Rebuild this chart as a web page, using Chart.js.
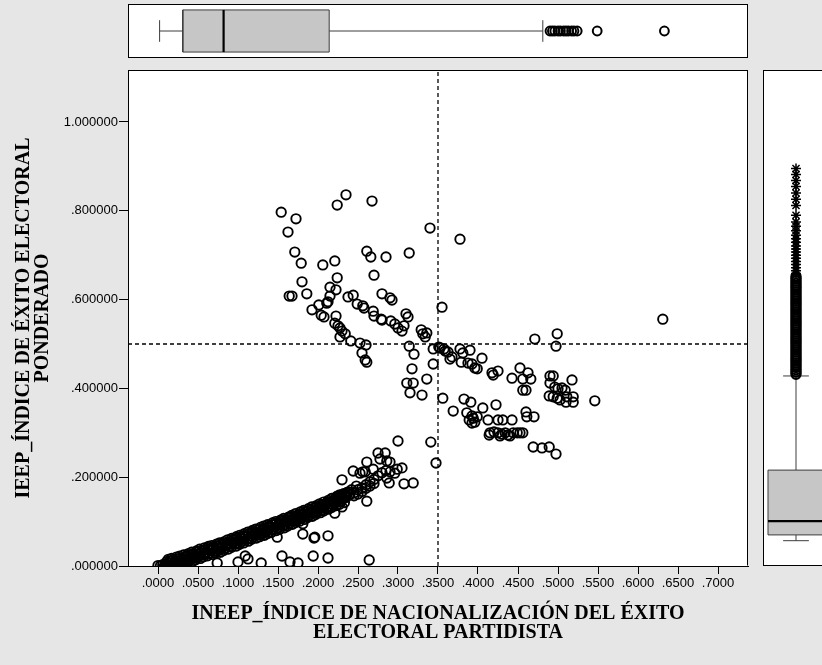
<!DOCTYPE html>
<html>
<head>
<meta charset="utf-8">
<script src="https://cdn.jsdelivr.net/npm/chart.js@4.4.1/dist/chart.umd.min.js"></script>
<style>
  html, body { margin: 0; padding: 0; background: #e6e6e6; }
  body { width: 822px; height: 665px; position: relative; overflow: hidden; }
  canvas { position: absolute; }
</style>
</head>
<body>
<canvas id="main" width="822" height="665" style="left:0;top:0"></canvas>
<canvas id="topBox" width="620" height="54" style="left:128px;top:4px"></canvas>
<canvas id="sideBox" width="59" height="496" style="left:763px;top:70px"></canvas>
<script>
// reference lines
const refX = 0.35;
const refY = 0.5;

// upper cluster of parties
const clusterX = [
  .154, .1725, .1625, .224, .235, .2675, .171, .179, .206, .221,
  .261, .266, .285, .314, .34, .3775, .224, .27, .18, .186,
  .164, .1675, .215, .2225, .215, .2125, .211, .201, .1925, .204,
  .2075, .2225, .221, .225, .2275, .23, .234, .2275, .241, .2375,
  .244, .249, .256, .2575, .269, .27, .279, .28, .28, .29,
  .2925, .291, .296, .30, .305, .3075, .31, .3125, .329, .331,
  .334, .336, .355, .2525, .26, .255, .259, .261, .314, .32,
  .344, .3525, .359, .344, .3175, .311, .319, .315, .33, .336,
  .356, .369, .30, .341, .3475, .351, .3575, .3625, .3675, .365,
  .3775, .381, .39, .379, .3875, .3925, .396, .399, .405, .4175,
  .419, .425, .4425, .4525, .4625, .456, .466, .456, .46, .471,
  .499, .4975, .49, .494, .49, .496, .50, .505, .509, .5175,
  .489, .494, .499, .5025, .511, .51, .519, .519, .546, .631,
  .3825, .391, .386, .3925, .394, .389, .396, .399, .3925, .406,
  .4225, .4125, .425, .431, .4425, .46, .461, .47, .415, .42,
  .425, .43, .434, .4375, .444, .449, .4525, .456, .414, .4275,
  .44, .469, .48, .489, .4975
];
const clusterY = [
  .797, .782, .752, .813, .836, .822, .707, .682, .678, .687,
  .709, .696, .696, .705, .761, .736, .649, .655, .640, .613,
  .608, .608, .628, .622, .608, .595, .592, .588, .577, .565,
  .561, .563, .547, .541, .536, .529, .523, .516, .507, .606,
  .610, .590, .586, .581, .574, .563, .556, .554, .613, .604,
  .599, .552, .545, .536, .529, .541, .568, .561, .532, .523,
  .516, .525, .583, .502, .498, .480, .464, .459, .495, .477,
  .489, .491, .484, .455, .444, .412, .412, .390, .385, .421,
  .378, .349, .2815, .279, .232, .493, .489, .482, .471, .466,
  .489, .480, .486, .459, .457, .455, .446, .444, .468, .435,
  .430, .439, .423, .446, .435, .421, .421, .396, .396, .511,
  .523, .495, .428, .428, .412, .403, .399, .401, .396, .419,
  .383, .381, .378, .374, .381, .369, .381, .369, .372, .556,
  .376, .369, .345, .338, .333, .329, .324, .336, .322, .356,
  .363, .329, .329, .329, .329, .347, .336, .336, .300, .302,
  .300, .297, .300, .295, .300, .300, .300, .300, .295, .293,
  .293, .268, .266, .268, .252
];

// dense lower band, read as five rows plus its tail
const bandMidX = [
  .000, .006, .010, .014, .021, .025, .031, .034, .040, .046,
  .050, .054, .061, .065, .069, .076, .080, .086, .090, .094,
  .101, .105, .109, .116, .120, .124, .131, .135, .139, .146,
  .150, .154, .161, .165, .169, .176, .180, .186, .190, .194,
  .201, .205, .209, .216, .220, .224, .231, .235, .240
];
const bandMidY = [
  .001, .003, .004, .006, .009, .011, .012, .016, .020, .021,
  .026, .030, .031, .035, .038, .040, .042, .048, .050, .053,
  .058, .060, .065, .067, .072, .074, .079, .080, .086, .087,
  .092, .094, .099, .101, .107, .109, .114, .116, .122, .123,
  .129, .131, .137, .139, .145, .147, .152, .154, .161
];
const bandLowX = [
  .008, .012, .018, .022, .028, .033, .037, .043, .047, .053,
  .057, .062, .068, .072, .078, .082, .088, .092, .098, .102,
  .107, .113, .117, .123, .127, .133, .137, .142, .148, .152,
  .158, .162, .168, .172, .177, .183, .187, .193, .197, .203,
  .207, .213, .217, .223, .227, .233
];
const bandLowY = [
  0, 0, 0, .001, .002, .004, .007, .010, .014, .017,
  .021, .023, .026, .029, .031, .035, .038, .042, .045, .049,
  .052, .056, .060, .063, .066, .069, .073, .076, .080, .083,
  .086, .090, .094, .098, .101, .105, .109, .112, .116, .120,
  .124, .128, .132, .136, .139, .143
];
const bandLow2X = [
  .003, .009, .016, .019, .026, .029, .036, .039, .044, .049,
  .056, .059, .064, .071, .074, .079, .084, .089, .096, .099,
  .104, .111, .114, .119, .126, .129, .134, .141, .144, .149,
  .156, .159, .164, .171, .174, .179, .184, .189, .196, .199,
  .204, .211, .214, .219, .226, .229
];
const bandLow2Y = [
  0, 0, .002, .003, .006, .008, .012, .014, .017, .020,
  .025, .027, .029, .033, .034, .038, .041, .045, .050, .052,
  .055, .060, .062, .066, .071, .073, .076, .081, .083, .086,
  .091, .093, .096, .102, .104, .108, .111, .115, .120, .122,
  .126, .132, .134, .138, .144, .146
];
const bandHigh2X = [
  .011, .015, .019, .024, .028, .033, .036, .041, .045, .051,
  .055, .059, .064, .068, .074, .078, .081, .086, .091, .095,
  .099, .104, .108, .113, .117, .121, .126, .131, .134, .139,
  .144, .148, .152, .157, .161, .166, .171, .174, .179, .184,
  .187, .192, .197, .201, .206, .211, .215, .219, .224, .229,
  .234
];
const bandHigh2Y = [
  .010, .011, .013, .016, .017, .020, .022, .025, .027, .032,
  .034, .037, .039, .041, .045, .047, .049, .052, .056, .059,
  .062, .065, .068, .072, .075, .077, .081, .084, .086, .090,
  .093, .095, .098, .102, .104, .108, .112, .114, .118, .121,
  .123, .127, .131, .134, .138, .142, .145, .148, .152, .156,
  .159
];
const bandHighX = [
  .013, .017, .023, .027, .032, .038, .042, .048, .052, .058,
  .063, .067, .073, .077, .083, .087, .092, .098, .102, .108,
  .112, .118, .122, .128, .132, .137, .143, .147, .153, .157,
  .163, .167, .172, .178, .182, .188, .192, .198, .202, .207,
  .213, .217, .223, .227, .232, .238
];
const bandHighY = [
  .015, .017, .020, .022, .025, .028, .031, .034, .038, .041,
  .044, .046, .049, .052, .055, .059, .062, .066, .069, .073,
  .076, .080, .083, .087, .090, .093, .097, .100, .103, .107,
  .110, .114, .118, .122, .125, .129, .133, .136, .140, .144,
  .148, .152, .156, .160, .163, .167
];
const tailX = [.245, .25, .255, .26, .265, .27, .275, .28, .285, .245,
  .25, .255, .26, .265, .27, .242, .248, .236, .23, .225];
const tailY = [.165, .172, .176, .183, .19, .195, .203, .21, .215, .158,
  .162, .168, .175, .18, .186, .172, .18, .165, .16, .158];

// loose points around the band
const looseX = [
  .2125, .195, .181, .155, .165, .175, .194, .2125, .264, .129,
  .1125, .109, .10, .074, .149, .221, .23, .181, .196, .275,
  .284, .2775, .286, .29, .299, .305, .29, .286, .289, .3075,
  .319, .296, .261, .269, .256, .244, .23, .261, .2525, .259
];
const looseY = [
  .068, .063, .072, .0225, .009, .007, .0225, .018, .0135, .007,
  .016, .0225, .009, .007, .065, .119, .133, .095, .065, .2545,
  .2545, .241, .2365, .234, .218, .221, .212, .198, .187, .185,
  .187, .209, .234, .218, .212, .214, .194, .146, .209, .212
];

// top boxplot (x variable): whisker low, q1, median, q3, whisker high
const xBoxStats = [0.002, 0.031, 0.082, 0.214, 0.481];
const xOutliers = [.49, .493, .496, .50, .503, .507, .51, .513, .517, .52, .524, .549, .633];

// side boxplot (y variable)
const yBoxStats = [0.057, 0.070, 0.101, 0.216, 0.428];
const yOutliers = [
  .432, .437, .442, .447, .452, .457, .462, .467, .472, .477,
  .482, .487, .492, .497, .502, .507, .512, .517, .522, .527,
  .532, .537, .542, .547, .552, .557, .562, .567, .572, .577,
  .582, .587, .592, .597, .602, .607, .612, .617, .622, .627,
  .632, .637, .642, .647, .652
];
const yExtremes = [
  .895, .882, .868, .855, .84, .826, .812, .79, .775, .765,
  .755, .745, .737, .729, .721, .714, .707, .70, .693, .686,
  .679, .672, .665, .659
];

// pixel mapping shared by the three panels (800px per x unit, 444px per y unit)
const X_MIN = -0.0375, X_MAX = 0.7375;
const Y_MIN = 0, Y_MAX = 496 / 444;

Chart.defaults.color = '#000';
Chart.defaults.animation = false;

const pts = (xs, ys) => xs.map((x, i) => ({ x, y: ys[i] }));

// white plot area + frame lines
const panel = {
  id: 'panel',
  beforeDraw(chart) {
    const { ctx, chartArea: a } = chart;
    ctx.save();
    ctx.fillStyle = '#fff';
    ctx.fillRect(a.left, a.top, a.right - a.left, a.bottom - a.top);
    ctx.restore();
  },
  afterDraw(chart, args, opts) {
    const { ctx, chartArea: a } = chart;
    const sides = opts.sides || 'tlbr';
    const l = Math.round(a.left) + 0.5, r = Math.round(a.right) - 0.5;
    const t = Math.round(a.top) + 0.5, b = Math.round(a.bottom) - 0.5;
    ctx.save();
    ctx.strokeStyle = '#000';
    ctx.lineWidth = 1;
    ctx.beginPath();
    if (sides.includes('t')) { ctx.moveTo(l - 0.5, t); ctx.lineTo(r + 0.5, t); }
    if (sides.includes('b')) { ctx.moveTo(l - 0.5, b); ctx.lineTo(r + 0.5, b); }
    if (sides.includes('l')) { ctx.moveTo(l, t); ctx.lineTo(l, b); }
    if (sides.includes('r')) { ctx.moveTo(r, t); ctx.lineTo(r, b); }
    ctx.stroke();
    ctx.restore();
  }
};

function boxDatasets(stats, half, cap, horizontal) {
  const [lo, q1, med, q3, hi] = stats;
  const P = (v, o) => horizontal ? { x: v, y: o } : { x: o, y: v };
  const seg = (data, extra) => Object.assign({
    type: 'line', data, borderColor: '#3c3c3c', borderWidth: 1,
    pointRadius: 0, fill: false, tension: 0
  }, extra);
  return [
    seg([P(med, -half), P(med, half)], { borderColor: '#000', borderWidth: 2.2 }),
    seg([P(q1, -half), P(q3, -half), P(q3, half), P(q1, half), P(q1, -half)],
        { fill: 'shape', backgroundColor: '#c6c6c6' }),
    seg([P(lo, 0), P(q1, 0)]),
    seg([P(q3, 0), P(hi, 0)]),
    seg([P(lo, -cap), P(lo, cap)]),
    seg([P(hi, -cap), P(hi, cap)])
  ];
}

const tickFont = { family: '"Liberation Sans", Arial, sans-serif', size: 13 };
const titleFont = { family: '"Liberation Serif", "Times New Roman", serif', size: 20, weight: 'bold', lineHeight: 0.95 };
const ring = { pointStyle: 'circle', pointRadius: 4.7, pointBorderWidth: 1.9,
  pointBorderColor: '#000', pointBackgroundColor: 'rgba(0,0,0,0)' };

new Chart(document.getElementById('main'), {
  type: 'scatter',
  data: {
    datasets: [
      { type: 'line', data: [{ x: refX, y: Y_MIN }, { x: refX, y: Y_MAX }],
        borderColor: '#000', borderWidth: 1.3, borderDash: [4, 3], pointRadius: 0, fill: false },
      { type: 'line', data: [{ x: X_MIN, y: refY }, { x: X_MAX, y: refY }],
        borderColor: '#000', borderWidth: 1.3, borderDash: [4, 3], pointRadius: 0, fill: false },
      Object.assign({ data: pts(clusterX, clusterY) }, ring),
      Object.assign({ data: pts(looseX, looseY) }, ring),
      Object.assign({ data: pts(tailX, tailY) }, ring),
      Object.assign({ data: pts(bandHighX, bandHighY) }, ring),
      Object.assign({ data: pts(bandHigh2X, bandHigh2Y) }, ring),
      Object.assign({ data: pts(bandMidX, bandMidY) }, ring),
      Object.assign({ data: pts(bandLow2X, bandLow2Y) }, ring),
      Object.assign({ data: pts(bandLowX, bandLowY) }, ring)
    ]
  },
  options: {
    responsive: false,
    layout: { autoPadding: false, padding: { top: 70, right: 74, left: 0, bottom: 0 } },
    plugins: { legend: { display: false }, tooltip: { enabled: false }, panel: { sides: 'tr' } },
    scales: {
      x: {
        type: 'linear', min: X_MIN, max: X_MAX,
        afterFit(s) { s.height = 99; },
        ticks: {
          stepSize: 0.05, includeBounds: false, autoSkip: false, maxRotation: 0,
          padding: 2, font: tickFont, color: '#000',
          callback: v => v.toFixed(4).replace(/^0\./, '.')
        },
        grid: { drawOnChartArea: false, drawTicks: true, tickLength: 8, color: '#000' },
        border: { display: true, color: '#000' },
        title: {
          display: true,
          text: ['INEEP_ÍNDICE DE NACIONALIZACIÓN DEL ÉXITO', 'ELECTORAL PARTIDISTA'],
          font: titleFont, color: '#000', padding: { top: 0, bottom: 23 }
        }
      },
      y: {
        type: 'linear', min: Y_MIN, max: Y_MAX,
        afterFit(s) { s.width = 128; },
        ticks: {
          stepSize: 0.2, includeBounds: false, padding: 1, font: tickFont, color: '#000',
          callback: v => v.toFixed(6).replace(/^0\./, '.')
        },
        grid: { drawOnChartArea: false, drawTicks: true, tickLength: 9, color: '#000' },
        border: { display: true, color: '#000' },
        title: {
          display: true,
          text: ['IEEP_ÍNDICE DE ÉXITO ELECTORAL', 'PONDERADO'],
          font: titleFont, color: '#000', padding: { top: 14, bottom: 0 }
        }
      }
    }
  },
  plugins: [panel]
});

// top marginal boxplot, same x scale as the scatter
new Chart(document.getElementById('topBox'), {
  type: 'scatter',
  data: {
    datasets: [
      { data: xOutliers.map(x => ({ x, y: 0 })), pointStyle: 'circle', pointRadius: 4.4,
        pointBorderWidth: 2, pointBorderColor: '#000', pointBackgroundColor: 'rgba(0,0,0,0)' },
      ...boxDatasets(xBoxStats, 0.39, 0.2, true)
    ]
  },
  options: {
    responsive: false,
    layout: { autoPadding: false, padding: 0 },
    plugins: { legend: { display: false }, tooltip: { enabled: false }, panel: { sides: 'tlbr' } },
    scales: {
      x: { display: false, type: 'linear', min: X_MIN, max: X_MIN + 620 / 800 },
      y: { display: false, type: 'linear', min: -0.5, max: 0.5 }
    }
  },
  plugins: [panel]
});

// side marginal boxplot, same y scale as the scatter
new Chart(document.getElementById('sideBox'), {
  type: 'scatter',
  data: {
    datasets: [
      { data: yExtremes.map(y => ({ x: 0, y })), pointStyle: 'star', pointRadius: 5,
        pointBorderWidth: 1.5, pointBorderColor: '#000' },
      { data: yOutliers.map(y => ({ x: 0, y })), pointStyle: 'circle', pointRadius: 4.6,
        pointBorderWidth: 2.2, pointBorderColor: '#000', pointBackgroundColor: 'rgba(0,0,0,0)' },
      ...boxDatasets(yBoxStats, 0.5, 0.23, false)
    ]
  },
  options: {
    responsive: false,
    layout: { autoPadding: false, padding: 0 },
    plugins: { legend: { display: false }, tooltip: { enabled: false }, panel: { sides: 'tlb' } },
    scales: {
      x: { display: false, type: 'linear', min: -33 / 56, max: 26 / 56 },
      y: { display: false, type: 'linear', min: Y_MIN, max: Y_MAX }
    }
  },
  plugins: [panel]
});
</script>
</body>
</html>
